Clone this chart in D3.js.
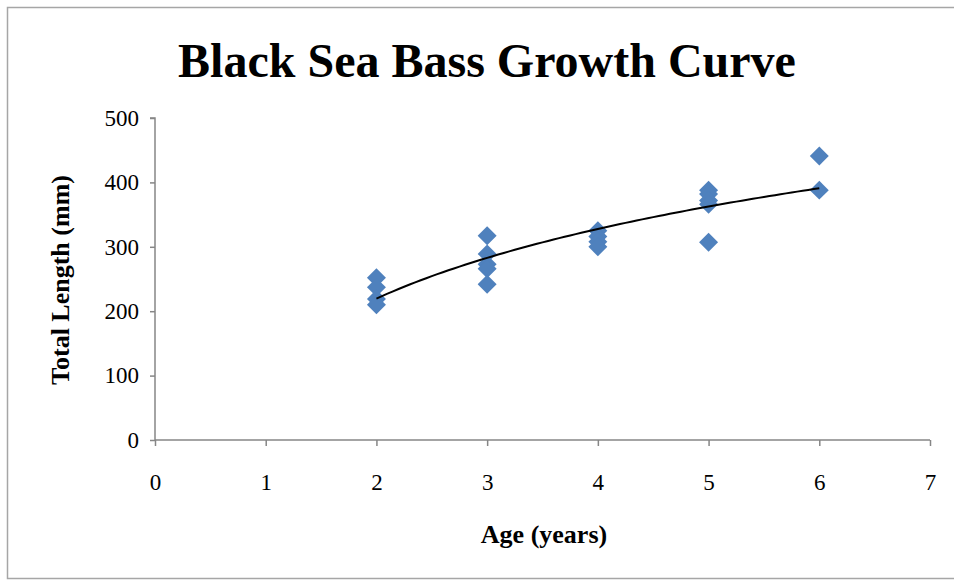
<!DOCTYPE html>
<html>
<head>
<meta charset="utf-8">
<script src="https://cdn.jsdelivr.net/npm/d3@7"></script>
<style>
  html, body { margin: 0; padding: 0; background: #fff; overflow: hidden; }
  svg { display: block; }
  text { font-family: "Liberation Serif", "Times New Roman", serif; fill: #000; }
</style>
</head>
<body>
<svg id="chart" width="954" height="581"></svg>
<script>
// ---- data ----
const title = "Black Sea Bass Growth Curve";
const xTitle = "Age (years)";
const yTitle = "Total Length (mm)";
const ages    = [2, 2, 2, 2, 3, 3, 3, 3, 3, 4, 4, 4, 4, 5, 5, 5, 5, 5, 6, 6];
const lengths = [252, 237, 219, 210, 317, 289, 273, 266, 242, 325, 316, 308, 300, 388, 382, 372, 366, 307, 441, 388];
const xTicks = [0, 1, 2, 3, 4, 5, 6, 7];
const yTicks = [0, 100, 200, 300, 400, 500];

const svg = d3.select("#chart");
const W = 954, H = 581;

// outer chart-area border
svg.append("rect")
  .attr("x", 7.5).attr("y", 7.5)
  .attr("width", W + 10).attr("height", 571)
  .attr("fill", "none").attr("stroke", "#a6a6a6").attr("stroke-width", 1.5);

const x = d3.scaleLinear().domain([0, 7]).range([155, 930]);
const y = d3.scaleLinear().domain([0, 500]).range([440, 118]);

// axes
const axisColor = "#868686";
const yAxis = svg.append("g").attr("transform", `translate(${x(0)},0)`)
  .call(d3.axisLeft(y).tickValues(yTicks).tickSize(5).tickPadding(11).tickFormat(d3.format("d")));
const xAxis = svg.append("g").attr("transform", `translate(0,${y(0)})`)
  .call(d3.axisBottom(x).tickValues(xTicks).tickSize(6).tickPadding(28).tickFormat(d3.format("d")));
[xAxis, yAxis].forEach(g => {
  g.select(".domain").attr("stroke", axisColor).attr("stroke-width", 1.5);
  g.selectAll(".tick line").attr("stroke", axisColor).attr("stroke-width", 1.5);
  g.selectAll(".tick text")
    .style("font-family", '"Liberation Serif", serif')
    .style("font-size", "23px").attr("fill", "#000");
});
yAxis.select(".domain").attr("d", `M-5,${y(500)}H0V${y(0)}`);
xAxis.select(".domain").attr("d", `M${x(0)},0H${x(7)}`);

// logarithmic trendline (least squares on ln(age)) computed from the data
const lx = ages.map(Math.log);
const mx = d3.mean(lx), my = d3.mean(lengths);
const b = d3.sum(lx, (v, i) => (v - mx) * (lengths[i] - my)) / d3.sum(lx, v => (v - mx) ** 2);
const a = my - b * mx;
const trendX = d3.range(2, 6.0001, 0.05);

// markers (diamonds)
svg.append("g").selectAll("path")
  .data(ages.map((g, i) => [g, lengths[i]]))
  .join("path")
  .attr("transform", d => `translate(${x(d[0])},${y(d[1])}) rotate(45)`)
  .attr("d", d3.symbol(d3.symbolSquare, 180)())
  .attr("fill", "#4f81bd");

// trendline on top of markers
svg.append("path")
  .datum(trendX)
  .attr("fill", "none").attr("stroke", "#000").attr("stroke-width", 2)
  .attr("d", d3.line().x(d => x(d)).y(d => y(a + b * Math.log(d))));

// titles
svg.append("text").attr("x", 487).attr("y", 77).attr("text-anchor", "middle")
  .style("font-size", "48px").style("font-weight", "bold").text(title);
svg.append("text").attr("x", 544).attr("y", 543).attr("text-anchor", "middle")
  .style("font-size", "26px").style("font-weight", "bold").text(xTitle);
svg.append("text").attr("transform", "translate(69,280) rotate(-90)").attr("text-anchor", "middle")
  .style("font-size", "26px").style("font-weight", "bold").text(yTitle);
</script>
</body>
</html>
